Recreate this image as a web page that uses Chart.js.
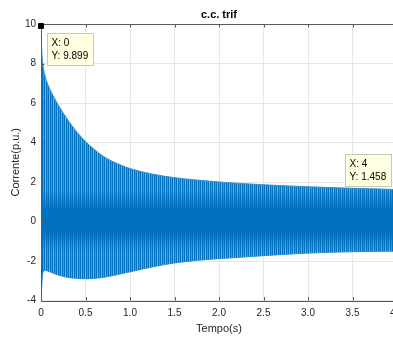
<!DOCTYPE html>
<html>
<head>
<meta charset="utf-8">
<script src="https://cdn.jsdelivr.net/npm/chart.js@4.4.1/dist/chart.umd.min.js"></script>
<style>
html, body { margin: 0; padding: 0; background: #fff; overflow: hidden; }
#wrap { width: 440px; height: 338px; }
</style>
</head>
<body>
<div id="wrap"><canvas id="cc" width="440" height="338"></canvas></div>
<script>
// Envoltórias (corrente em p.u. vs tempo em s)
const tempo  = [0, 0.008, 0.02, 0.05, 0.1, 0.15, 0.2, 0.3, 0.4, 0.5, 0.6, 0.7, 0.8, 0.9, 1.0, 1.25, 1.5, 1.75, 2.0, 2.5, 3.0, 3.5, 4.0];
const envSup = [9.9, 8.7, 8.0, 7.3, 6.7, 6.25, 5.85, 5.15, 4.55, 4.05, 3.65, 3.3, 3.05, 2.85, 2.68, 2.4, 2.22, 2.1, 2.0, 1.86, 1.76, 1.68, 1.62];
const envInf = [-3.9, -3.3, -2.6, -2.48, -2.55, -2.64, -2.72, -2.83, -2.88, -2.9, -2.88, -2.83, -2.75, -2.65, -2.55, -2.3, -2.1, -1.97, -1.88, -1.73, -1.6, -1.53, -1.5];

// Data tips
const dicaX = [0, 4];
const dicaY = [9.899, 1.458];
const dicaLado = ['se', 'nw'];

const AZUL = '#0072BD';
const EIXO = '#5a5a5a';
const FONTE = "'Liberation Sans', Arial, sans-serif";

Chart.defaults.font.family = FONTE;
Chart.defaults.color = '#262626';

let padrao = null;

// textura de listras verticais (aliasing da senoide densa)
function padraoFaixa(chart) {
    const y = chart.scales.y;
    const h = chart.height;
    const c = document.createElement('canvas');
    c.width = 4; c.height = h;
    const g = c.getContext('2d');
    g.fillStyle = AZUL;
    g.fillRect(0, 0, 4, h);

    const y0 = y.getPixelForValue(0);
    const k = y0 - y.getPixelForValue(1);
    const grad = g.createLinearGradient(0, 0, 0, h);
    const cor = a => 'rgba(135,190,235,' + a + ')';
    const stops = [
        [y0 - 1.6 * k, 0.85], [y0 - 0.6 * k, 0], [y0 + 0.5 * k, 0], [y0 + 1.5 * k, 0.85]
    ];
    grad.addColorStop(0, cor(0.85));
    stops.forEach(s => grad.addColorStop(Math.min(1, Math.max(0, s[0] / h)), cor(s[1])));
    grad.addColorStop(1, cor(0.85));
    g.fillStyle = grad;
    g.fillRect(1, 0, 1, h);
    g.globalAlpha = 0.6;
    g.fillRect(3, 0, 1, h);
    return g.createPattern(c, 'repeat');
}

const molduraPlugin = {
    id: 'moldura',
    afterDatasetDraw: (chart, args) => {
        if (args.index !== 0) return;
        const ctx = chart.ctx;
        const { left, right, top, bottom } = chart.chartArea;
        const sx = chart.scales.x, sy = chart.scales.y;
        const tl = 3.5;

        ctx.save();
        ctx.strokeStyle = EIXO;
        ctx.lineWidth = 1;
        ctx.beginPath();
        sx.ticks.forEach(t => {
            const px = Math.round(sx.getPixelForValue(t.value)) + 0.5;
            ctx.moveTo(px, top); ctx.lineTo(px, top + tl);
            ctx.moveTo(px, bottom); ctx.lineTo(px, bottom - tl);
        });
        sy.ticks.forEach(t => {
            const py = Math.round(sy.getPixelForValue(t.value)) + 0.5;
            ctx.moveTo(left, py); ctx.lineTo(left + tl, py);
            ctx.moveTo(right, py); ctx.lineTo(right - tl, py);
        });
        ctx.stroke();
        ctx.strokeRect(Math.round(left) + 0.5, Math.round(top) + 0.5, Math.round(right - left), Math.round(bottom - top));
        ctx.restore();
    },
    afterDatasetsDraw: (chart) => {
        const ctx = chart.ctx;
        const sx = chart.scales.x, sy = chart.scales.y;
        ctx.save();
        ctx.font = '10px ' + FONTE;
        dicaX.forEach((xv, i) => {
            const mx = sx.getPixelForValue(xv);
            const my = sy.getPixelForValue(dicaY[i]);
            const linhas = ['X: ' + xv, 'Y: ' + dicaY[i]];
            const w = Math.ceil(Math.max(...linhas.map(l => ctx.measureText(l).width))) + 9;
            const h = 32;
            let bx, by;
            if (dicaLado[i] === 'se') { bx = mx + 6; by = my + 7; }
            else { bx = mx - 6 - w; by = my - 7 - h; }
            bx = Math.round(bx) + 0.5; by = Math.round(by) + 0.5;
            ctx.fillStyle = '#ffffe1';
            ctx.fillRect(bx, by, w, h);
            ctx.strokeStyle = '#c9c9b8';
            ctx.lineWidth = 1;
            ctx.strokeRect(bx, by, w, h);
            ctx.fillStyle = '#000';
            ctx.textBaseline = 'middle';
            ctx.textAlign = 'left';
            ctx.fillText(linhas[0], bx + 4, by + 10);
            ctx.fillText(linhas[1], bx + 4, by + 23);
        });
        ctx.restore();
    }
};

const config = {
    type: 'line',
    data: {
        datasets: [
            {
                data: tempo.map((t, i) => ({ x: t, y: envSup[i] })),
                borderColor: '#3a8fcf',
                borderWidth: 1,
                pointRadius: 0,
                cubicInterpolationMode: 'monotone',
                backgroundColor: (c) => {
                    const ch = c.chart;
                    if (!ch.chartArea || !ch.scales.y) return AZUL;
                    return padrao || (padrao = padraoFaixa(ch));
                },
                fill: '+1'
            },
            {
                data: tempo.map((t, i) => ({ x: t, y: envInf[i] })),
                borderColor: '#3a8fcf',
                borderWidth: 1,
                pointRadius: 0,
                cubicInterpolationMode: 'monotone',
                fill: false
            },
            {
                data: dicaX.map((x, i) => ({ x: x, y: dicaY[i] })),
                showLine: false,
                pointStyle: 'rect',
                pointRadius: 3.5,
                pointBackgroundColor: '#000',
                pointBorderColor: '#000',
                clip: false,
                order: -1
            }
        ]
    },
    options: {
        responsive: false,
        animation: false,
        devicePixelRatio: 1,
        layout: { padding: { left: 0, right: 43, top: 0, bottom: 0 } },
        plugins: {
            legend: { display: false },
            tooltip: { enabled: false },
            title: {
                display: true,
                text: 'c.c. trif',
                fullSize: false,
                color: '#000',
                font: { size: 11, weight: 'bold' },
                padding: { top: 8, bottom: 2.8 }
            }
        },
        scales: {
            x: {
                type: 'linear',
                min: 0,
                max: 4,
                border: { display: false },
                grid: { color: '#e6e6e6', drawTicks: false },
                ticks: { stepSize: 0.5, font: { size: 10 }, padding: 7, maxRotation: 0, autoSkip: false },
                title: { display: true, text: 'Tempo(s)', font: { size: 11 }, padding: { top: 0, bottom: 2 } },
                afterFit: (s) => { s.height = 37.5; }
            },
            y: {
                min: -4,
                max: 10,
                border: { display: false },
                grid: { color: '#e6e6e6', drawTicks: false },
                ticks: { stepSize: 2, font: { size: 10 }, padding: 5 },
                title: { display: true, text: 'Corrente(p.u.)', font: { size: 11 }, padding: { top: 9.4, bottom: 0 } },
                afterFit: (s) => { s.width = 41; }
            }
        }
    },
    plugins: [molduraPlugin]
};

new Chart(document.getElementById('cc'), config);
</script>
</body>
</html>
